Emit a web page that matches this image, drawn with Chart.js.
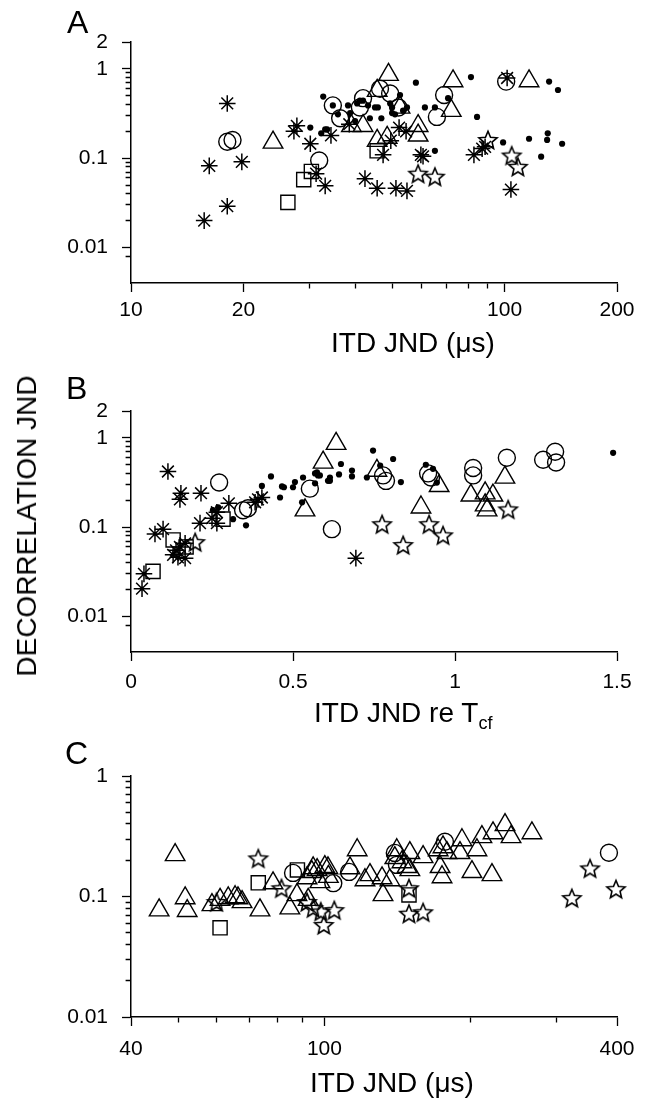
<!DOCTYPE html>
<html><head><meta charset="utf-8">
<script src="https://cdn.jsdelivr.net/npm/chart.js"></script>
<style>
html,body{margin:0;padding:0;background:#fff;}
body{width:649px;height:1099px;position:relative;overflow:hidden;font-family:"Liberation Sans",Arial,Helvetica,sans-serif;color:#000;}
canvas{position:absolute;left:0;}
.t{position:absolute;white-space:nowrap;line-height:1;font-size:28px;}
.t sub{font-size:18px;vertical-align:-7px;line-height:0;}
.p{position:absolute;line-height:1;font-size:32px;}
.v{position:absolute;white-space:nowrap;line-height:1;font-size:28px;transform:translate(-50%,-50%) rotate(-90deg);}
</style></head><body>
<canvas id="cA" width="649" height="370" style="top:0px"></canvas>
<canvas id="cB" width="649" height="370" style="top:370px"></canvas>
<canvas id="cC" width="649" height="359" style="top:740px"></canvas>
<div class="p" style="left:67px;top:6px">A</div>
<div class="p" style="left:66px;top:372px">B</div>
<div class="p" style="left:65px;top:737px">C</div>
<div class="t" style="left:331px;top:329px">ITD JND (μs)</div>
<div class="t" style="left:314px;top:699px">ITD JND re T<sub>cf</sub></div>
<div class="t" style="left:310px;top:1069px">ITD JND (μs)</div>
<div class="v" style="left:27px;top:526px">DECORRELATION JND</div>
<script>
// ---------- tick arrays ----------
const A_xTicks = [10,20,30,40,50,60,70,80,90,100,200];
const A_xLabels = [10,20,100,200];
const AB_yTicks = [0.008,0.01,0.02,0.03,0.04,0.05,0.06,0.07,0.08,0.09,0.1,0.2,0.3,0.4,0.5,0.6,0.7,0.8,0.9,1,2];
const AB_yLabels = [0.01,0.1,1,2];
const B_xTicks = [0,0.5,1,1.5];
const B_xLabels = [0,0.5,1,1.5];
const C_xTicks = [40,50,60,70,80,90,100,200,300,400];
const C_xLabels = [40,100,400];
const C_yTicks = [0.01,0.02,0.03,0.04,0.05,0.06,0.07,0.08,0.09,0.1,0.2,0.3,0.4,0.5,0.6,0.7,0.8,0.9,1];
const C_yLabels = [0.01,0.1,1];

// ---------- panel A data: [ITD JND (us), decorrelation JND] ----------
const A_dots = [[32.7,0.49],[57.9,0.70],[81.3,0.81],[131.6,0.72],[139,0.58],[84.4,0.29],[61.2,0.37],[70.6,0.47],[65.1,0.37],[30.2,0.22],[32.3,0.19],[33.1,0.21],[99.1,0.15],[116.3,0.165],[130,0.16],[130.5,0.19],[142.6,0.145],[125.3,0.104],[65.1,0.121],[34.7,0.39],[41,0.44],[43.6,0.28],[46.8,0.28],[50,0.32],[53.5,0.34],[54.8,0.37],[49.4,0.41],[43.1,0.39],[40.3,0.41],[45,0.37],[38.6,0.32],[39.8,0.26],[45.8,0.37],[50,0.37],[52.5,0.51],[50.9,0.31],[35.8,0.31],[38.1,0.39],[41.8,0.44],[33.5,0.21]];
const A_asterisks = [[18.1,0.41],[16.2,0.082],[19.8,0.091],[18.1,0.029],[15.7,0.020],[27.8,0.23],[27.3,0.20],[30.2,0.145],[31.3,0.067],[33.1,0.049],[101.6,0.79],[34.3,0.18],[38.4,0.24],[52.2,0.22],[54.5,0.20],[49.6,0.157],[47.3,0.109],[59.7,0.109],[82.8,0.109],[87.1,0.128],[88.7,0.134],[42.3,0.059],[45.6,0.046],[51.2,0.046],[54.8,0.043],[104,0.0445],[60.5,0.105]];
const A_circles = [[18.1,0.153],[18.7,0.16],[31.9,0.094],[34.7,0.39],[36.3,0.28],[41.8,0.47],[41,0.37],[46.4,0.60],[49.4,0.53],[52,0.37],[68.9,0.51],[65.9,0.29],[101,0.72]];
const A_triangles = [[24,0.15],[48.9,0.86],[72.8,0.73],[116.3,0.73],[45.6,0.57],[52.5,0.37],[72,0.34],[38.9,0.23],[41.8,0.23],[58.7,0.23],[58.7,0.18],[45.6,0.157],[48.5,0.17]];
const A_squares = [[26.3,0.032],[29,0.0575],[30.4,0.071],[45.6,0.121]];
const A_stars = [[90.3,0.16],[104.5,0.107],[108.6,0.080],[58.7,0.067],[65.1,0.062]];

// ---------- panel B data: [ITD JND re Tcf, decorrelation JND] ----------
const B_dots = [[0.432,0.37],[0.404,0.29],[0.466,0.286],[0.472,0.28],[0.460,0.215],[0.506,0.32],[0.5,0.28],[0.531,0.36],[0.568,0.40],[0.577,0.38],[0.608,0.33],[0.528,0.19],[0.315,0.123],[0.355,0.105],[0.747,0.72],[0.809,0.58],[0.648,0.51],[0.682,0.43],[0.682,0.37],[0.642,0.39],[0.614,0.36],[0.614,0.33],[0.574,0.41],[0.583,0.38],[0.568,0.31],[0.728,0.36],[0.769,0.49],[0.833,0.32],[0.910,0.50],[0.932,0.45],[0.944,0.316],[1.488,0.68],[0.253,0.155],[0.269,0.167]];
const B_asterisks = [[0.114,0.42],[0.154,0.24],[0.151,0.205],[0.216,0.24],[0.074,0.084],[0.099,0.095],[0.040,0.030],[0.034,0.0205],[0.213,0.111],[0.302,0.185],[0.265,0.147],[0.250,0.126],[0.265,0.111],[0.392,0.205],[0.404,0.215],[0.383,0.19],[0.130,0.049],[0.145,0.046],[0.167,0.045],[0.151,0.060],[0.167,0.066],[0.139,0.055],[0.694,0.045]];
const B_circles = [[0.272,0.316],[0.346,0.155],[0.361,0.163],[0.552,0.27],[0.620,0.095],[0.778,0.38],[0.787,0.33],[0.917,0.40],[0.926,0.36],[1.056,0.46],[1.056,0.38],[1.160,0.60],[1.272,0.57],[1.309,0.70],[1.312,0.53]];
const B_triangles = [[0.593,0.53],[0.537,0.155],[0.633,0.86],[0.759,0.43],[0.951,0.29],[1.154,0.36],[0.895,0.167],[1.049,0.227],[1.093,0.24],[1.117,0.227],[1.093,0.176],[1.099,0.155]];
const B_squares = [[0.130,0.072],[0.068,0.032],[0.284,0.123],[0.170,0.060]];
const B_stars = [[0.198,0.068],[0.775,0.108],[0.840,0.063],[0.920,0.108],[0.963,0.081],[1.164,0.158]];

// ---------- panel C data: [ITD JND (us), decorrelation JND] ----------
const C_triangles = [[49.3,0.221],[45.7,0.077],[51.7,0.097],[52.2,0.076],[58.7,0.085],[61.0,0.094],[63.4,0.097],[65.5,0.099],[66.4,0.097],[67.7,0.090],[73.7,0.077],[78.4,0.129],[84.9,0.080],[87.8,0.103],[92.1,0.142],[96.6,0.166],[101.7,0.172],[92.6,0.094],[94.8,0.172],[97.9,0.132],[100.2,0.176],[101.9,0.146],[94.2,0.160],[116.8,0.243],[112.9,0.172],[124.1,0.151],[131.4,0.142],[136.4,0.137],[121.2,0.137],[132.0,0.103],[140.9,0.243],[149.9,0.230],[139.6,0.209],[144.4,0.193],[147.9,0.176],[149.9,0.166],[159.6,0.213],[171.4,0.243],[175.4,0.257],[178.7,0.230],[174.6,0.145],[173.0,0.176],[191.9,0.294],[190.1,0.230],[206.0,0.243],[210.9,0.312],[201.2,0.160],[221.2,0.151],[222.3,0.336],[235.3,0.392],[242.1,0.312],[267.3,0.336]];
const C_circles = [[86.2,0.157],[104.3,0.129],[112.4,0.160],[139.6,0.230],[141,0.183],[177,0.285],[385,0.231]];
const C_squares = [[61,0.055],[73.1,0.13],[88,0.166],[149.3,0.103]];
const C_stars = [[60,0.090],[81.6,0.117],[73.1,0.207],[92.1,0.090],[94.8,0.080],[98.3,0.075],[99.7,0.058],[104.8,0.077],[149.3,0.117],[149.3,0.072],[159.6,0.074],[323,0.097],[352,0.171],[398,0.115]];

// ---------- styling ----------
const INK = '#000';
const FONT_FAMILY = "'Liberation Sans', Arial, Helvetica, sans-serif";
const LW = 1.4;

function starImage(R, lw) {
  const s = 2 * Math.ceil(R + lw + 1);
  const c = document.createElement('canvas');
  c.width = s; c.height = s;
  const g = c.getContext('2d');
  g.translate(s / 2, s / 2 + R * 0.08);
  g.beginPath();
  const r = R * 0.45;
  for (let k = 0; k < 10; k++) {
    const a = -Math.PI / 2 + k * Math.PI / 5;
    const rr = (k % 2) ? r : R;
    if (k === 0) g.moveTo(rr * Math.cos(a), rr * Math.sin(a));
    else g.lineTo(rr * Math.cos(a), rr * Math.sin(a));
  }
  g.closePath();
  g.lineWidth = lw; g.strokeStyle = INK; g.lineJoin = 'miter';
  g.stroke();
  return c;
}
const STAR = starImage(9.5, 1.6);

function ds(data, kind) {
  const base = {data: data.map(([x, y]) => ({x, y})), showLine: false, pointBorderColor: INK, pointBorderWidth: LW, pointBackgroundColor: 'rgba(0,0,0,0)'};
  if (kind === 'dot') return Object.assign(base, {pointStyle: 'circle', pointRadius: 3.1, pointBackgroundColor: INK, pointBorderWidth: 0});
  if (kind === 'asterisk') return Object.assign(base, {pointStyle: 'star', pointRadius: 8.3, pointBorderWidth: 1.5});
  if (kind === 'circle') return Object.assign(base, {pointStyle: 'circle', pointRadius: 8.5});
  if (kind === 'triangle') return Object.assign(base, {pointStyle: 'triangle', pointRadius: 11.3});
  if (kind === 'square') return Object.assign(base, {pointStyle: 'rect', pointRadius: 10});
  if (kind === 'star') return Object.assign(base, {pointStyle: STAR, pointRadius: 9});
}

function axis(type, pos, min, max, ticks, labels, pad) {
  return {
    type, position: pos, min, max,
    afterBuildTicks: s => { s.ticks = ticks.map(v => ({value: v})); },
    afterFit: s => { if (pos === 'left') s.width = 131; else s.height = 40; },
    border: {display: true, color: INK, width: 1.5},
    grid: {
      drawOnChartArea: false, drawTicks: true, tickLength: 9, tickColor: INK, tickWidth: 1.3,
      tickBorderDash: c => (c.tick && labels.includes(c.tick.value)) ? [] : (pos === 'left' ? [0, 3.6, 5, 50] : [5, 50])
    },
    ticks: {
      autoSkip: false, maxRotation: 0, minRotation: 0, color: INK, padding: pad,
      font: {family: FONT_FAMILY, size: 21},
      callback: v => labels.includes(v) ? String(v) : ''
    },
    title: {display: false}
  };
}

function makeChart(id, datasets, xScale, yScale, padding) {
  return new Chart(document.getElementById(id), {
    type: 'scatter',
    data: {datasets},
    options: {
      responsive: false, animation: false, devicePixelRatio: 1, events: [],
      layout: {padding},
      plugins: {legend: {display: false}, tooltip: {enabled: false}, title: {display: false}},
      datasets: {scatter: {clip: false}},
      scales: {x: xScale, y: yScale}
    }
  });
}

makeChart('cA', [
  ds(A_dots, 'dot'), ds(A_asterisks, 'asterisk'), ds(A_circles, 'circle'),
  ds(A_triangles, 'triangle'), ds(A_squares, 'square'), ds(A_stars, 'star')
], axis('logarithmic', 'bottom', 10, 200, A_xTicks, A_xLabels, 6),
   axis('logarithmic', 'left', 0.004, 2, AB_yTicks, AB_yLabels, 14),
   {left: 0, right: 32, top: 42, bottom: 47});

makeChart('cB', [
  ds(B_dots, 'dot'), ds(B_asterisks, 'asterisk'), ds(B_circles, 'circle'),
  ds(B_triangles, 'triangle'), ds(B_squares, 'square'), ds(B_stars, 'star')
], axis('linear', 'bottom', 0, 1.5, B_xTicks, B_xLabels, 9),
   axis('logarithmic', 'left', 0.004, 2, AB_yTicks, AB_yLabels, 14),
   {left: 0, right: 32, top: 41, bottom: 48});

makeChart('cC', [
  ds(C_circles, 'circle'), ds(C_triangles, 'triangle'), ds(C_squares, 'square'), ds(C_stars, 'star')
], axis('logarithmic', 'bottom', 40, 400, C_xTicks, C_xLabels, 11),
   axis('logarithmic', 'left', 0.01, 1, C_yTicks, C_yLabels, 14),
   {left: 0, right: 32, top: 36, bottom: 42});
</script>
</body></html>
